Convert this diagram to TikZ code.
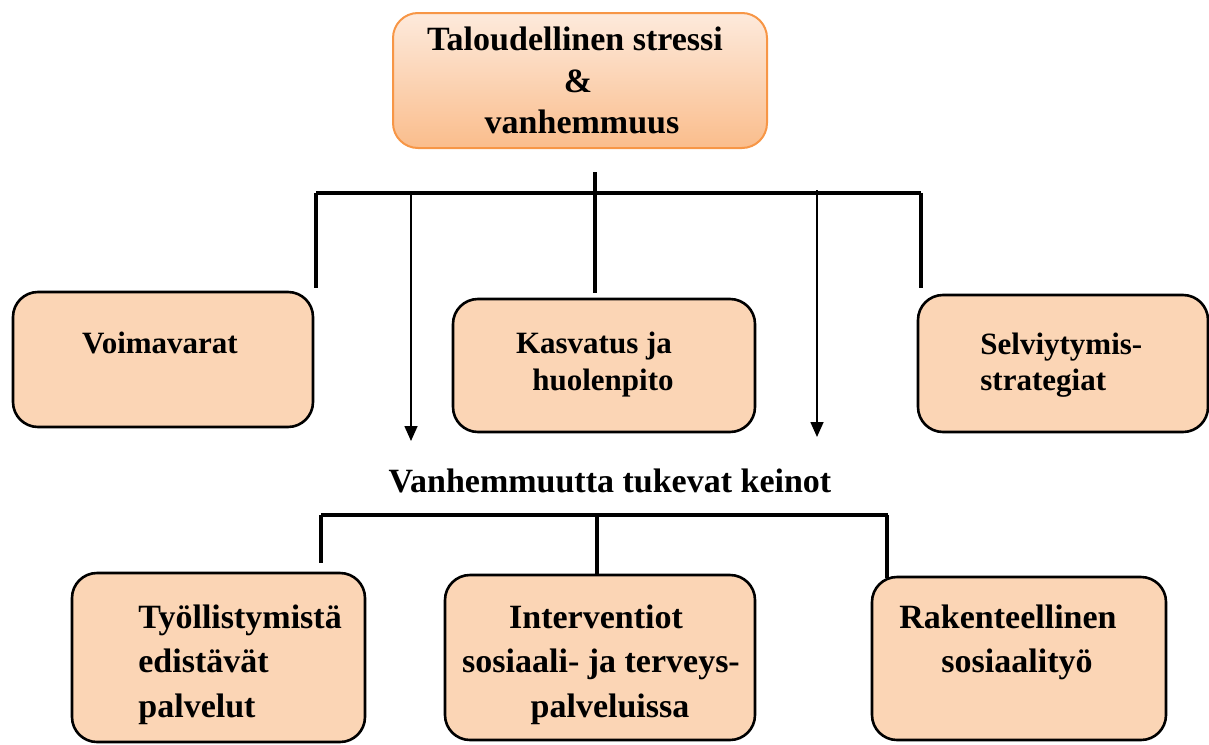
\documentclass[tikz,border=0pt]{standalone}
\usepackage{fontspec}
\setmainfont{Liberation Serif}
\usetikzlibrary{arrows.meta}
\definecolor{peach}{HTML}{FBD5B5}
\definecolor{toptop}{HTML}{FDEADC}
\definecolor{topbot}{HTML}{FABD8C}
\definecolor{topedge}{HTML}{F79646}
\tikzset{
  box/.style={draw=black,line width=1.3pt,fill=peach,rounded corners=12.5pt,inner sep=0pt},
  topbox/.style={draw=topedge,line width=1pt,top color=toptop,bottom color=topbot,rounded corners=12.5pt,inner sep=0pt},
  big/.style={inner sep=0pt,font=\bfseries\fontsize{17}{20}\selectfont},
  mid/.style={inner sep=0pt,font=\bfseries\fontsize{15.5}{18}\selectfont},
  thick line/.style={line width=2pt},
  thin arrow/.style={line width=0.8pt,-{Triangle[width=6.5pt,length=7.5pt]}}
}
\begin{document}
\begin{tikzpicture}[x=0.5pt,y=-0.5pt]
\useasboundingbox (0,0) rectangle (1209,744);
% boxes
\node[topbox,minimum width=187pt,minimum height=67.5pt] (top) at (580,80.5) {};
\node[box,minimum width=150pt,minimum height=67.5pt] (voima) at (163,359.5) {};
\node[box,minimum width=151pt,minimum height=66.5pt] (kasv) at (604,365.5) {};
\node[box,minimum width=145pt,minimum height=68.5pt] (selv) at (1063,363.5) {};
\node[box,minimum width=146.5pt,minimum height=84.5pt] (tyo) at (218.5,657.5) {};
\node[box,minimum width=155pt,minimum height=82.5pt] (inter) at (600,657.5) {};
\node[box,minimum width=147pt,minimum height=81.5pt] (rak) at (1019,658.5) {};
% texts
\node[big,anchor=base] (t1) at (575,50) {Taloudellinen stressi};
\node[big,anchor=base] (t2) at (578,92) {\&};
\node[big,anchor=base] (t3) at (582,133) {vanhemmuus};
\node[mid,anchor=base] (v1) at (160,353) {Voimavarat};
\node[mid,anchor=base] (k1) at (594,353) {Kasvatus ja};
\node[mid,anchor=base] (k2) at (603,390) {huolenpito};
\node[mid,anchor=base west] (s1) at (980,354) {Selviytymis-};
\node[mid,anchor=base west] (s2) at (980,390) {strategiat};
\node[big,anchor=base] (lab) at (610,492) {Vanhemmuutta tukevat keinot};
\node[big,anchor=base west] (y1) at (138,628) {Työllistymistä};
\node[big,anchor=base west] (y2) at (138,672) {edistävät};
\node[big,anchor=base west] (y3) at (138,717) {palvelut};
\node[big,anchor=base] (i1) at (596,628) {Interventiot};
\node[big,anchor=base] (i2) at (601,672) {sosiaali- ja terveys-};
\node[big,anchor=base] (i3) at (610,717) {palveluissa};
\node[big,anchor=base] (r1) at (1008,628) {Rakenteellinen};
\node[big,anchor=base] (r2) at (1017,672) {sosiaalityö};
% upper connector
\coordinate (barL) at (316,193);
\coordinate (barR) at (921,193);
\coordinate (cTop) at (595,172);
\coordinate (cBot) at (595,293);
\coordinate (lBot) at (316,288);
\coordinate (rBot) at (921,288);
\draw[thick line] (barL) -- (barR);
\draw[thick line] (cTop) -- (cBot);
\draw[thick line] (barL) -- (lBot);
\draw[thick line] (barR) -- (rBot);
\coordinate (a1s) at (411,193);
\coordinate (a1e) at (411,441);
\coordinate (a2s) at (817,190);
\coordinate (a2e) at (817,437);
\draw[thin arrow] (a1s) -- (a1e);
\draw[thin arrow] (a2s) -- (a2e);
% lower connector
\coordinate (lbL) at (321,515);
\coordinate (lbR) at (888,515);
\coordinate (lbC) at (597,515);
\coordinate (lbLd) at (321,563);
\coordinate (lbCd) at (597,576);
\coordinate (lbRd) at (887,578);
\draw[thick line] (lbL) -- (lbR);
\draw[thick line] (lbL) -- (lbLd);
\draw[thick line] (lbC) -- (lbCd);
\draw[thick line] (887,515) -- (lbRd);
\end{tikzpicture}
\end{document}
